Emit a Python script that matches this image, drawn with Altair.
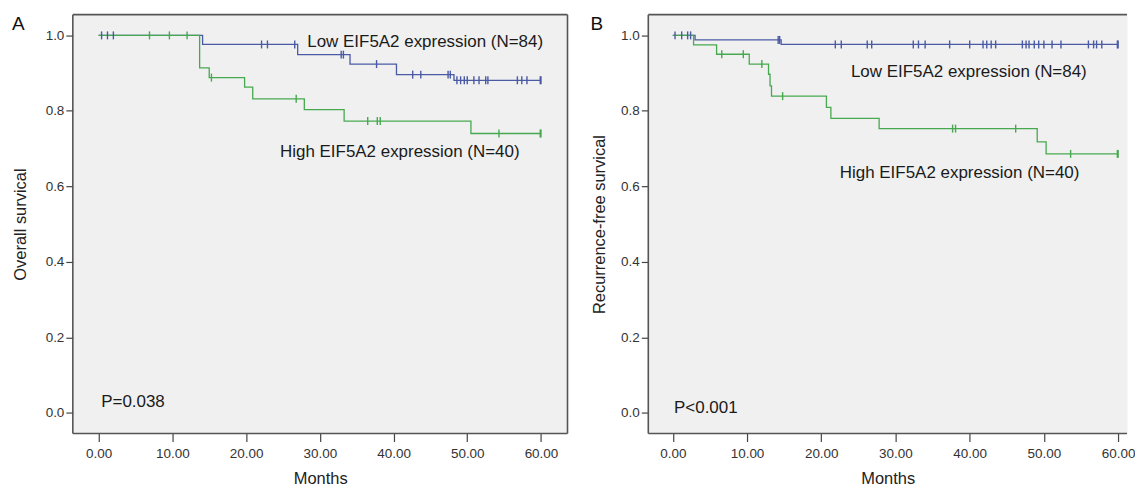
import bisect
import altair as alt
import pandas as pd

FONT = "Liberation Sans"
GROUPS = ["Low", "High"]
COLORS = ["#4A5AA4", "#46A94F"]
FRAME = "#555555"
X_TICKS = [0, 10, 20, 30, 40, 50, 60]
Y_TICKS = [0.0, 0.2, 0.4, 0.6, 0.8, 1.0]
H = 420

# ---- Panel A: overall survival ----
a_low_event_t = [0, 14.1, 27.0, 34.1, 40.4, 48.2]
a_low_event_s = [1.0, 0.976, 0.949, 0.924, 0.896, 0.881]
a_low_cens = [0.4, 1.2, 2.0, 22.1, 22.9, 26.6, 32.9, 33.2, 37.7, 42.6, 43.7,
              47.4, 47.7, 48.6, 49.1, 49.6, 50.0, 50.9, 51.6, 52.5, 52.8,
              56.8, 57.4, 58.1, 59.9, 60.0]
a_high_event_t = [0, 13.7, 15.0, 19.8, 20.9, 27.9, 33.3, 50.5]
a_high_event_s = [1.0, 0.914, 0.888, 0.863, 0.832, 0.803, 0.773, 0.740]
a_high_cens = [6.9, 9.6, 12.0, 15.3, 26.8, 36.5, 37.8, 38.2, 54.3, 59.9, 60.0]

# ---- Panel B: recurrence-free survival ----
b_low_event_t = [0, 3.0, 14.6]
b_low_event_s = [1.0, 0.988, 0.976]
b_low_cens = [0.3, 1.2, 2.0, 2.4, 14.2, 14.4, 21.9, 22.7, 26.2, 26.8, 32.4, 33.1,
              34.0, 37.3, 40.0, 41.8, 42.3, 42.9, 43.5, 47.1, 47.6, 48.0, 48.7,
              49.3, 50.0, 51.1, 52.3, 56.0, 56.7, 57.1, 57.8, 59.9, 60.0]
b_high_event_t = [0, 2.8, 5.9, 10.3, 12.9, 13.1, 13.3, 20.7, 21.3, 27.8, 49.1, 50.3]
b_high_event_s = [1.0, 0.975, 0.95, 0.924, 0.897, 0.866, 0.839, 0.809, 0.78,
                  0.753, 0.718, 0.686]
b_high_cens = [6.6, 9.5, 12.0, 14.8, 37.7, 38.1, 46.2, 53.6, 59.9, 60.0]

END_T = 60.0

# annotation texts (label, month, survival)
a_labels = ["Low EIF5A2 expression (N=84)", "High EIF5A2 expression (N=40)", "P=0.038"]
a_label_t = [28.3, 24.6, 0.35]
a_label_s = [0.970, 0.678, 0.014]
b_labels = ["Low EIF5A2 expression (N=84)", "High EIF5A2 expression (N=40)", "P<0.001"]
b_label_t = [24.0, 22.5, 0.17]
b_label_s = [0.889, 0.622, 0.0]


def curve(event_t, event_s, cens_t, group):
    ts = list(event_t) + [END_T]
    ss = list(event_s) + [event_s[-1]]
    line = pd.DataFrame({"t": ts, "s": ss, "g": group, "o": list(range(len(ts)))})
    cs = [event_s[bisect.bisect_right(event_t, c) - 1] for c in cens_t]
    cens = pd.DataFrame({"t": cens_t, "s": cs, "g": group})
    return line, cens


def panel(low, high, labels, lab_t, lab_s, letter, letter_x, ytitle, title_pad,
          xdom, width, right_side):
    l1, c1 = curve(*low, "Low")
    l2, c2 = curve(*high, "High")
    lines = pd.concat([l1, l2])
    cens = pd.concat([c1, c2])
    texts = pd.DataFrame({"t": lab_t, "s": lab_s, "label": labels})

    x = alt.X("t:Q", scale=alt.Scale(domain=xdom, nice=False, zero=False),
              axis=alt.Axis(title="Months", values=X_TICKS, format=".2f"))
    y = alt.Y("s:Q", scale=alt.Scale(domain=[-0.055, 1.055], nice=False, zero=False),
              axis=alt.Axis(title=ytitle, values=Y_TICKS, format=".1f",
                            titlePadding=title_pad))
    color = alt.Color("g:N", scale=alt.Scale(domain=GROUPS, range=COLORS), legend=None)

    ln = alt.Chart(lines).mark_line(interpolate="step-after", strokeWidth=1.3).encode(
        x=x, y=y, color=color, detail="g:N", order="o:Q")
    pt = alt.Chart(cens).mark_point(shape="M0,-1L0,1", size=64, filled=False,
                                    strokeWidth=1.4, opacity=1).encode(x=x, y=y, color=color)
    tx = alt.Chart(texts).mark_text(align="left", baseline="alphabetic", fontSize=17,
                                    font=FONT, color="#1a1a1a").encode(x=x, y=y, text="label:N")
    lt = alt.Chart(pd.DataFrame({"letter": [letter]})).mark_text(
        align="left", baseline="top", fontSize=19, font=FONT, color="#111111").encode(
        x=alt.value(letter_x), y=alt.value(0), text="letter:N")

    one = pd.DataFrame({"k": [0]})
    rule = alt.Chart(one).mark_rule(color=FRAME, strokeWidth=1.6)
    sides = [
        rule.encode(x=alt.value(0), y=alt.value(0), y2=alt.value(H)),
        rule.encode(x=alt.value(0), x2=alt.value(width), y=alt.value(0)),
        rule.encode(x=alt.value(0), x2=alt.value(width), y=alt.value(H)),
    ]
    if right_side:
        sides.append(rule.encode(x=alt.value(width), y=alt.value(0), y2=alt.value(H)))

    return alt.layer(ln, pt, tx, lt, *sides).properties(
        width=width, height=H,
        view=alt.ViewBackground(fill="#F0F0F0", strokeOpacity=0))


A = panel((a_low_event_t, a_low_event_s, a_low_cens),
          (a_high_event_t, a_high_event_s, a_high_cens),
          a_labels, a_label_t, a_label_s, "A", -61, "Overall survical", 17,
          [-3.5, 63.6], 496, True)
B = panel((b_low_event_t, b_low_event_s, b_low_cens),
          (b_high_event_t, b_high_event_s, b_high_cens),
          b_labels, b_label_t, b_label_s, "B", -58, "Recurrence-free survical", 13,
          [-3.3, 61.2], 480, False)

chart = (
    alt.hconcat(A, B, spacing=22)
    .properties(padding={"left": 4, "top": 5, "right": 0, "bottom": 5})
    .configure(background="white")
    .configure_axis(domain=False, grid=False, tickColor="#444444", tickSize=8, tickWidth=1.2,
                    labelFont=FONT, titleFont=FONT, labelFontSize=13.5, titleFontSize=16.5,
                    labelColor="#333333", titleColor="#222222", titleFontWeight="normal")
    .configure_axisX(labelPadding=5, titlePadding=11)
    .configure_axisY(labelPadding=2, tickSize=7)
)

chart.save("out.html", embed_options={"renderer": "svg", "actions": False})
